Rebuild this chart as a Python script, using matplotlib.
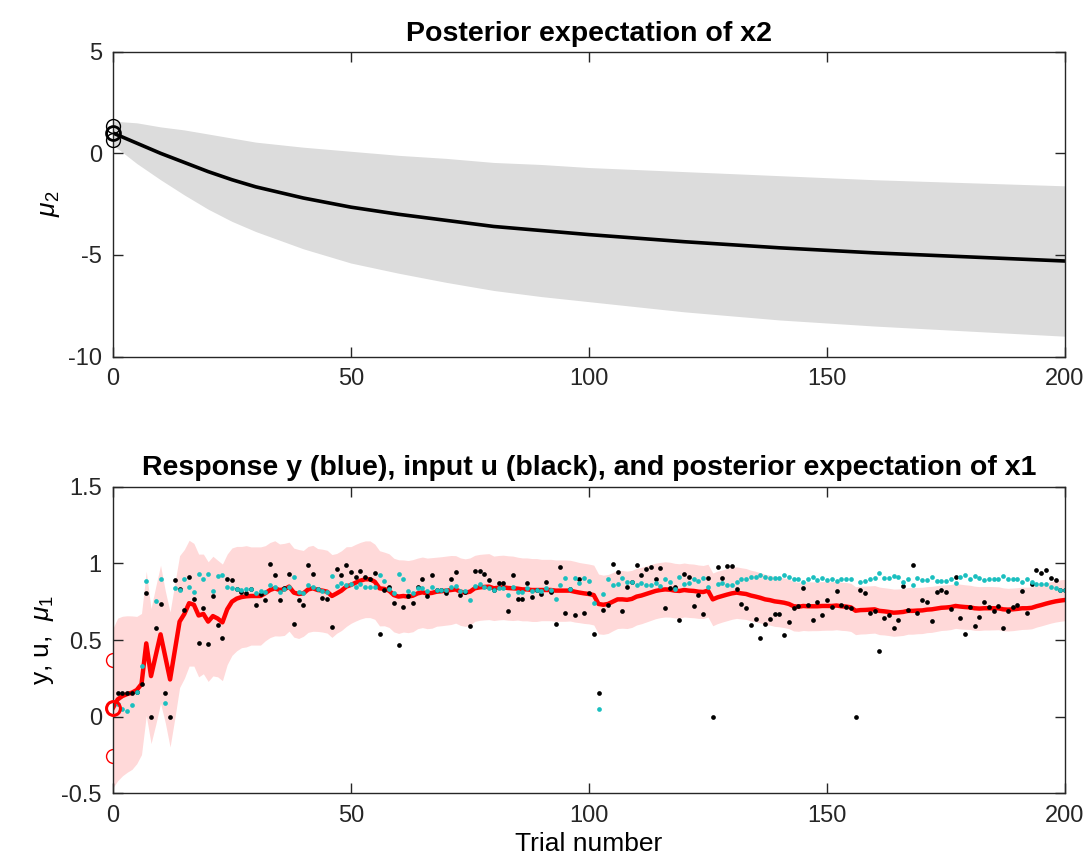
import numpy as np
import matplotlib
matplotlib.use('Agg')
import matplotlib.pyplot as plt

plt.rcParams['font.family'] = ['Liberation Sans', 'DejaVu Sans']
plt.rcParams['mathtext.fontset'] = 'custom'
plt.rcParams['mathtext.it'] = 'Liberation Sans:italic'
plt.rcParams['mathtext.rm'] = 'Liberation Sans'
plt.rcParams['axes.unicode_minus'] = False

# ---------------- top panel: posterior expectation of x2 ----------------
trials_top = [0, 2, 5, 10, 15, 20, 25, 30, 40, 50, 60, 70, 80, 90, 100,
              120, 140, 160, 180, 200]
mu2 = [1.0, 0.8, 0.5, 0.0, -0.45, -0.9, -1.3, -1.65, -2.2, -2.65, -3.0,
       -3.3, -3.6, -3.8, -4.0, -4.35, -4.65, -4.9, -5.1, -5.3]
sd2 = [0.6, 0.75, 1.0, 1.3, 1.6, 1.85, 2.05, 2.2, 2.5, 2.75, 2.9,
       3.05, 3.15, 3.25, 3.3, 3.45, 3.55, 3.6, 3.65, 3.7]
mu2_prior = 1.0
sd2_prior = 0.33

# ---------------- bottom panel: inputs, responses, mu1 ----------------
# u (black) and y (cyan) for trials 1..200
u_input = [
    0.157, 0.152, 0.152, 0.157, 0.160, 0.215, 0.807, 0.000, 0.576, 0.735,
    0.157, 0.000, 0.889, 0.830, 0.693, 0.911, 0.765, 0.478, 0.711, 0.474,
    0.787, 0.600, 0.515, 0.900, 0.893, 0.830, 0.815, 0.804, 0.830, 0.728,
    0.802, 0.761, 0.996, 0.922, 0.759, 0.837, 0.930, 0.604, 0.763, 0.728,
    0.991, 0.930, 0.830, 0.774, 0.767, 0.585, 0.961, 0.922, 0.987, 0.943,
    0.913, 0.948, 0.909, 0.898, 0.935, 0.537, 0.828, 0.848, 0.739, 0.465,
    0.717, 0.785, 0.739, 0.848, 0.896, 0.785, 0.924, 0.828, 0.826, 0.804,
    0.900, 0.941, 0.796, 0.811, 0.591, 0.952, 0.952, 0.930, 0.889, 0.828,
    0.870, 0.870, 0.691, 0.924, 0.765, 0.770, 0.874, 0.783, 0.826, 0.798,
    0.876, 0.815, 0.607, 0.978, 0.676, 0.830, 0.665, 0.898, 0.676, 0.804,
    0.541, 0.152, 0.698, 0.730, 0.996, 0.943, 0.691, 0.848, 0.876, 0.991,
    0.922, 0.961, 0.978, 0.898, 0.970, 0.709, 0.839, 0.846, 0.628, 0.930,
    0.909, 0.724, 0.791, 0.667, 0.904, 0.000, 0.976, 0.907, 0.985, 0.985,
    0.830, 0.733, 0.707, 0.598, 0.635, 0.515, 0.607, 0.637, 0.672, 0.672,
    0.533, 0.617, 0.707, 0.720, 0.841, 0.726, 0.633, 0.746, 0.663, 0.763,
    0.713, 0.820, 0.728, 0.717, 0.709, 0.000, 0.828, 0.807, 0.676, 0.691,
    0.426, 0.646, 0.663, 0.580, 0.633, 0.854, 0.698, 0.989, 0.678, 0.761,
    0.748, 0.626, 0.813, 0.826, 0.811, 0.700, 0.909, 0.643, 0.539, 0.715,
    0.589, 0.650, 0.748, 0.715, 0.691, 0.720, 0.580, 0.691, 0.715, 0.728,
    0.820, 0.678, 0.867, 0.957, 0.937, 0.959, 0.907, 0.891, 0.826, 0.826]

nan = np.nan
y_resp = [
    0.083, 0.050, 0.039, 0.074, 0.163, 0.333, 0.885, nan, 0.754, 0.896,
    0.087, nan, 0.841, 0.828, 0.900, 0.846, 0.815, 0.933, 0.900, 0.933,
    0.820, 0.915, 0.926, 0.846, 0.841, 0.830, 0.826, 0.830, 0.830, 0.809,
    0.820, 0.815, 0.861, 0.848, 0.813, 0.835, 0.848, 0.913, 0.815, 0.807,
    0.861, 0.848, 0.830, 0.820, 0.815, 0.917, 0.852, 0.870, 0.857, 0.863,
    0.846, 0.867, 0.843, 0.843, 0.848, 0.924, 0.883, 0.835, 0.809, 0.933,
    0.898, 0.820, 0.809, 0.839, 0.839, 0.820, 0.848, 0.828, 0.826, 0.826,
    0.843, 0.852, 0.822, 0.822, 0.761, 0.852, 0.865, 0.848, 0.841, 0.828,
    0.839, 0.839, 0.796, 0.846, 0.815, 0.815, 0.839, 0.820, 0.826, 0.822,
    0.837, 0.826, 0.767, 0.857, 0.904, 0.830, 0.904, 0.874, 0.904, 0.887,
    0.739, 0.050, 0.800, 0.898, 0.861, 0.867, 0.902, 0.878, 0.878, 0.857,
    0.870, 0.861, 0.861, 0.874, 0.852, 0.900, 0.880, 0.833, 0.911, 0.867,
    0.870, 0.896, 0.887, 0.904, 0.843, nan, 0.863, 0.870, 0.861, 0.861,
    0.880, 0.896, 0.900, 0.913, 0.911, 0.926, 0.913, 0.907, 0.904, 0.904,
    0.924, 0.913, 0.900, 0.898, 0.880, 0.898, 0.911, 0.893, 0.904, 0.891,
    0.898, 0.883, 0.896, 0.898, 0.898, nan, 0.880, 0.885, 0.900, 0.902,
    0.939, 0.907, 0.907, 0.917, 0.909, 0.876, 0.900, 0.857, 0.904, 0.891,
    0.891, 0.911, 0.883, 0.883, 0.883, 0.900, 0.874, 0.909, 0.924, 0.898,
    0.917, 0.907, 0.893, 0.898, 0.900, 0.898, 0.917, 0.900, 0.900, 0.896,
    0.880, 0.900, 0.876, 0.863, 0.865, 0.863, 0.846, 0.841, 0.826, 0.826]

# mu1 and its standard deviation for trials 0..200
mu1 = [
    0.057, 0.113, 0.135, 0.148, 0.157, 0.174, 0.213, 0.478, 0.265, 0.400,
    0.537, 0.390, 0.243, 0.430, 0.620, 0.670, 0.740, 0.730, 0.660, 0.670,
    0.620, 0.656, 0.640, 0.615, 0.700, 0.750, 0.770, 0.780, 0.785, 0.787,
    0.787, 0.787, 0.805, 0.826, 0.837, 0.826, 0.830, 0.848, 0.809, 0.800,
    0.804, 0.830, 0.837, 0.826, 0.822, 0.815, 0.787, 0.804, 0.822, 0.848,
    0.859, 0.874, 0.887, 0.896, 0.896, 0.880, 0.837, 0.833, 0.822, 0.793,
    0.783, 0.787, 0.783, 0.789, 0.804, 0.811, 0.804, 0.807, 0.815, 0.818,
    0.822, 0.826, 0.830, 0.815, 0.809, 0.815, 0.837, 0.843, 0.846, 0.848,
    0.837, 0.841, 0.843, 0.839, 0.837, 0.835, 0.830, 0.830, 0.826, 0.826,
    0.826, 0.826, 0.826, 0.822, 0.822, 0.822, 0.822, 0.815, 0.809, 0.804,
    0.800, 0.793, 0.735, 0.730, 0.735, 0.750, 0.765, 0.765, 0.762, 0.768,
    0.783, 0.790, 0.800, 0.810, 0.820, 0.826, 0.830, 0.828, 0.822, 0.820,
    0.826, 0.822, 0.820, 0.815, 0.813, 0.822, 0.765, 0.778, 0.787, 0.796,
    0.804, 0.809, 0.804, 0.800, 0.790, 0.783, 0.775, 0.765, 0.760, 0.752,
    0.748, 0.743, 0.735, 0.720, 0.717, 0.722, 0.720, 0.720, 0.720, 0.722,
    0.722, 0.722, 0.725, 0.720, 0.718, 0.713, 0.691, 0.695, 0.696, 0.698,
    0.700, 0.690, 0.687, 0.683, 0.678, 0.680, 0.683, 0.690, 0.690, 0.692,
    0.693, 0.698, 0.700, 0.705, 0.710, 0.712, 0.715, 0.722, 0.718, 0.715,
    0.713, 0.707, 0.705, 0.707, 0.707, 0.707, 0.707, 0.700, 0.698, 0.700,
    0.703, 0.707, 0.707, 0.710, 0.720, 0.728, 0.737, 0.745, 0.752, 0.757,
    0.761]

sd1 = [
    0.52, 0.53, 0.52, 0.51, 0.50, 0.48, 0.46, 0.47, 0.44, 0.45,
    0.45, 0.43, 0.44, 0.44, 0.43, 0.42, 0.41, 0.40, 0.40, 0.39,
    0.39, 0.39, 0.38, 0.38, 0.36, 0.35, 0.34, 0.33, 0.33, 0.32,
    0.32, 0.32, 0.31, 0.31, 0.31, 0.30, 0.30, 0.29, 0.29, 0.29,
    0.28, 0.28, 0.28, 0.27, 0.27, 0.27, 0.27, 0.26, 0.26, 0.26,
    0.25, 0.25, 0.25, 0.25, 0.25, 0.245, 0.245, 0.24, 0.24, 0.24,
    0.24, 0.235, 0.235, 0.235, 0.23, 0.23, 0.23, 0.23, 0.225, 0.225,
    0.225, 0.225, 0.22, 0.22, 0.22, 0.22, 0.215, 0.215, 0.215, 0.215,
    0.21, 0.21, 0.21, 0.21, 0.21, 0.205, 0.205, 0.205, 0.205, 0.205,
    0.20, 0.20, 0.20, 0.20, 0.20, 0.20, 0.198, 0.198, 0.196, 0.196,
    0.195, 0.195, 0.195, 0.193, 0.192, 0.19, 0.19, 0.188, 0.187, 0.186,
    0.185, 0.184, 0.183, 0.182, 0.181, 0.18, 0.18, 0.179, 0.178, 0.177,
    0.176, 0.175, 0.175, 0.174, 0.173, 0.172, 0.172, 0.171, 0.17, 0.17,
    0.169, 0.168, 0.167, 0.166, 0.165, 0.165, 0.164, 0.164, 0.163, 0.163,
    0.162, 0.162, 0.161, 0.161, 0.16, 0.16, 0.16, 0.159, 0.159, 0.159,
    0.158, 0.158, 0.158, 0.157, 0.157, 0.157, 0.156, 0.156, 0.156, 0.155,
    0.155, 0.155, 0.154, 0.154, 0.154, 0.153, 0.153, 0.152, 0.152, 0.151,
    0.151, 0.15, 0.15, 0.149, 0.148, 0.148, 0.147, 0.146, 0.146, 0.145,
    0.144, 0.144, 0.143, 0.142, 0.142, 0.141, 0.14, 0.14, 0.139, 0.139,
    0.138, 0.138, 0.137, 0.137, 0.136, 0.136, 0.136, 0.135, 0.135, 0.135,
    0.135]
mu1_prior = 0.057
sd1_prior = 0.31

trials = np.arange(1, len(u_input) + 1)
trials0 = np.arange(0, len(mu1))
mu1_arr = np.array(mu1)
sd1_arr = np.array(sd1)
mu2_arr = np.array(mu2)
sd2_arr = np.array(sd2)

tick_fs = 17
title_fs = 20.5
label_fs = 19
spine_col = '#262626'


def style_axes(ax):
    for sp in ax.spines.values():
        sp.set_color(spine_col)
        sp.set_linewidth(1.0)
    ax.tick_params(direction='in', top=True, right=True, length=7,
                   width=1.0, color=spine_col, labelsize=tick_fs,
                   labelcolor='#262626', pad=8)
    ax.set_xlim(0, 200)
    ax.set_xticks([0, 50, 100, 150, 200])


fig = plt.figure(figsize=[10.86, 8.66], dpi=100)

# top panel
ax1 = fig.add_axes([0.104, 0.5883, 0.8767, 0.352])
ax1.fill_between(trials_top, mu2_arr - sd2_arr, mu2_arr + sd2_arr,
                 color='#dcdcdc', lw=0, zorder=1)
ax1.plot(trials_top, mu2, '-', color='k', linewidth=2.6)
ax1.plot([0], [mu2_prior], 'o', mfc='none', mec='k', ms=10, mew=2.0,
         clip_on=False, zorder=5)
ax1.plot([0, 0], [mu2_prior + sd2_prior, mu2_prior - sd2_prior], 'o',
         mfc='none', mec='k', ms=10, mew=1.0, clip_on=False, zorder=5)
ax1.set_ylim(-10, 5)
ax1.set_yticks([-10, -5, 0, 5])
style_axes(ax1)
ax1.set_title('Posterior expectation of x2', fontsize=title_fs,
              fontweight='bold', pad=8)
ax1.set_ylabel(r'$\mu_2$', fontsize=label_fs)

# bottom panel
ax2 = fig.add_axes([0.104, 0.0838, 0.8767, 0.3543])
ax2.plot([0, 0], [mu1_prior + sd1_prior, mu1_prior - sd1_prior], 'o',
         mfc='none', mec='r', ms=10, mew=1.0, clip_on=False, zorder=0.5)
ax2.fill_between(trials0, mu1_arr - sd1_arr, mu1_arr + sd1_arr,
                 color='#ffd9d9', lw=0, zorder=1)
ax2.plot(trials0, mu1_arr, '-', color='r', linewidth=3.2)
ax2.plot(trials, u_input, 'o', color='k', ms=3.4, mew=0)
ax2.plot(trials, y_resp, 'o', color=(0.1, 0.75, 0.75), ms=3.4, mew=0)
ax2.plot([0], [mu1_prior], 'o', mfc='none', mec='r', ms=10, mew=2.2,
         clip_on=False, zorder=5)
ax2.set_ylim(-0.5, 1.5)
ax2.set_yticks([-0.5, 0, 0.5, 1, 1.5])
ax2.set_yticklabels(['-0.5', '0', '0.5', '1', '1.5'])
style_axes(ax2)
ax2.set_title('Response y (blue), input u (black), and posterior expectation of x1',
              fontsize=title_fs, fontweight='bold', pad=8)
ax2.set_ylabel(r'y, u,  $\mu_1$', fontsize=label_fs)
ax2.set_xlabel('Trial number', fontsize=label_fs)

fig.savefig('out.png', dpi=100)
